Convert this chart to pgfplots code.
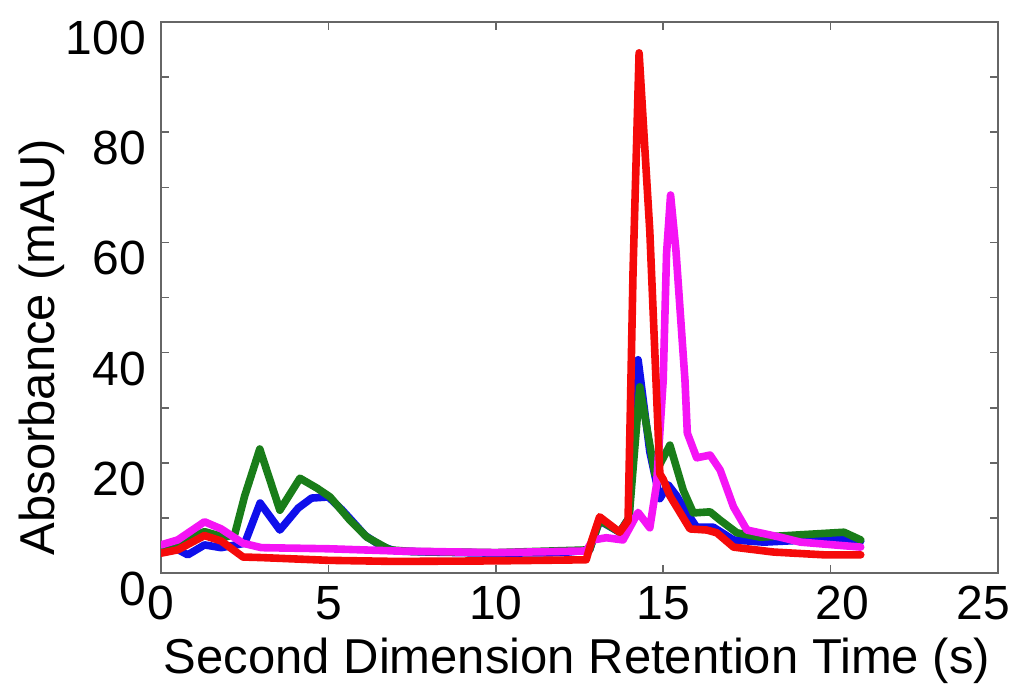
\documentclass[border=0pt]{standalone}
\usepackage{fontspec}
\setmainfont{Liberation Sans}
\usepackage{pgfplots}
\pgfplotsset{compat=1.18}

\definecolor{trblue}{RGB}{15,15,235}
\definecolor{trgreen}{RGB}{25,125,25}
\definecolor{trmagenta}{RGB}{245,20,245}
\definecolor{trred}{RGB}{245,10,10}

\begin{document}
\begin{tikzpicture}
\begin{axis}[
  at={(80.5pt,56.5pt)}, anchor=south west,
  scale only axis, width=418.5pt, height=275.5pt,
  xmin=0, xmax=25, ymin=0, ymax=100,
  xtick={0,5,...,25},
  xticklabels={0,5,10,15,\hspace*{12pt}20,25\hspace*{15pt}},
  ytick={0,20,...,100}, minor ytick={10,30,...,90},
  tick align=inside, major tick length=4pt, minor tick length=4pt,
  axis line style={draw=black!60, line width=0.8pt},
  tick style={draw=black!60, line width=0.8pt},
  /pgf/number format/assume math mode=true,
  tick label style={font=\fontsize{24}{28}\selectfont},
  xticklabel style={yshift=-3pt},
  yticklabel style={xshift=-4pt, yshift=-8pt},
  label style={font=\fontsize{24.5}{29}\selectfont},
  xlabel={Second Dimension Retention Time (s)},
  ylabel={Absorbance (mAU)},
  xlabel style={at={(axis description cs:0.497,-0.183)}, anchor=base},
  ylabel style={at={(axis description cs:-0.127,0.41)}, anchor=base},
  every axis plot/.append style={line width=3.8pt, line join=round, line cap=round},
]

% blue trace
\addplot[trblue] coordinates {
(0,4.5) (0.4,4.6) (0.8,3.3) (1.3,5.1) (1.8,4.6) (2.5,5.4) (2.96,12.7)
(3.55,7.8) (4.1,11.8) (4.5,13.6) (5.0,13.8) (5.4,11.5) (5.7,9.5) (6.1,6.8)
(6.6,4.8) (7.0,4.0) (8,3.8) (10,3.6) (12,3.7) (12.8,4.2) (13.1,9.5)
(13.7,7.4) (13.98,10) (14.25,38.7) (14.6,22) (14.9,13.5) (15.15,16)
(15.4,14) (15.7,11) (16.0,8.3) (16.5,8.3) (17.1,6) (18,5.6) (19,5.9)
(20,6.2) (20.9,5.8)
};

% green trace
\addplot[trgreen] coordinates {
(0,4.8) (0.5,5.5) (1.3,7.5) (1.9,6.5) (2.2,7.0) (2.5,14) (2.95,22.5)
(3.55,11.4) (4.15,17.2) (4.66,15.4) (5.05,13.8) (5.64,9.6) (6.15,6.5)
(6.84,4.2) (7.5,3.9) (10,3.7) (12.8,4.2) (13.1,9.6) (13.7,7.4) (13.98,10)
(14.3,33.8) (14.75,18) (15.2,23.2) (15.6,15) (15.9,10.9) (16.4,11.1)
(16.7,9.6) (17.2,7.3) (17.9,6.5) (19,6.9) (20.4,7.4) (20.9,6)
};

% magenta trace
\addplot[trmagenta] coordinates {
(0,5.1) (0.5,6) (1.3,9.3) (1.8,8) (2.45,5.4) (3,4.6) (5,4.4) (7,4.0)
(10,3.7) (12.7,4.0) (12.9,6) (13.3,6.4) (13.8,6) (14.25,11) (14.6,8.2)
(14.8,16) (15.0,35) (15.1,58) (15.22,68.6) (15.38,58.6) (15.65,35)
(15.72,25.4) (16.0,20.9) (16.4,21.4) (16.7,18.7) (17.1,12) (17.5,7.8)
(18.5,6.5) (19.1,5.6) (20.9,4.7)
};

% red trace
\addplot[trred] coordinates {
(0,3.6) (0.5,4.2) (1.3,6.8) (1.8,5.8) (2.45,2.9) (3,2.8) (5,2.3) (7,2.1)
(10,2.2) (12.7,2.4) (12.87,6) (13.1,10.2) (13.7,7.4) (13.95,9.5)
(14.02,30) (14.1,55) (14.28,94.4) (14.6,62) (14.75,40) (14.9,18)
(15.0,17) (15.2,14) (15.5,11) (15.8,8) (16.3,7.8) (16.6,7.3) (17.1,4.7)
(18.3,3.8) (19.8,3.3) (20.9,3.3)
};

\end{axis}
\pgfresetboundingbox
\useasboundingbox (0,0) rectangle (508pt,343pt);
\end{tikzpicture}
\end{document}
